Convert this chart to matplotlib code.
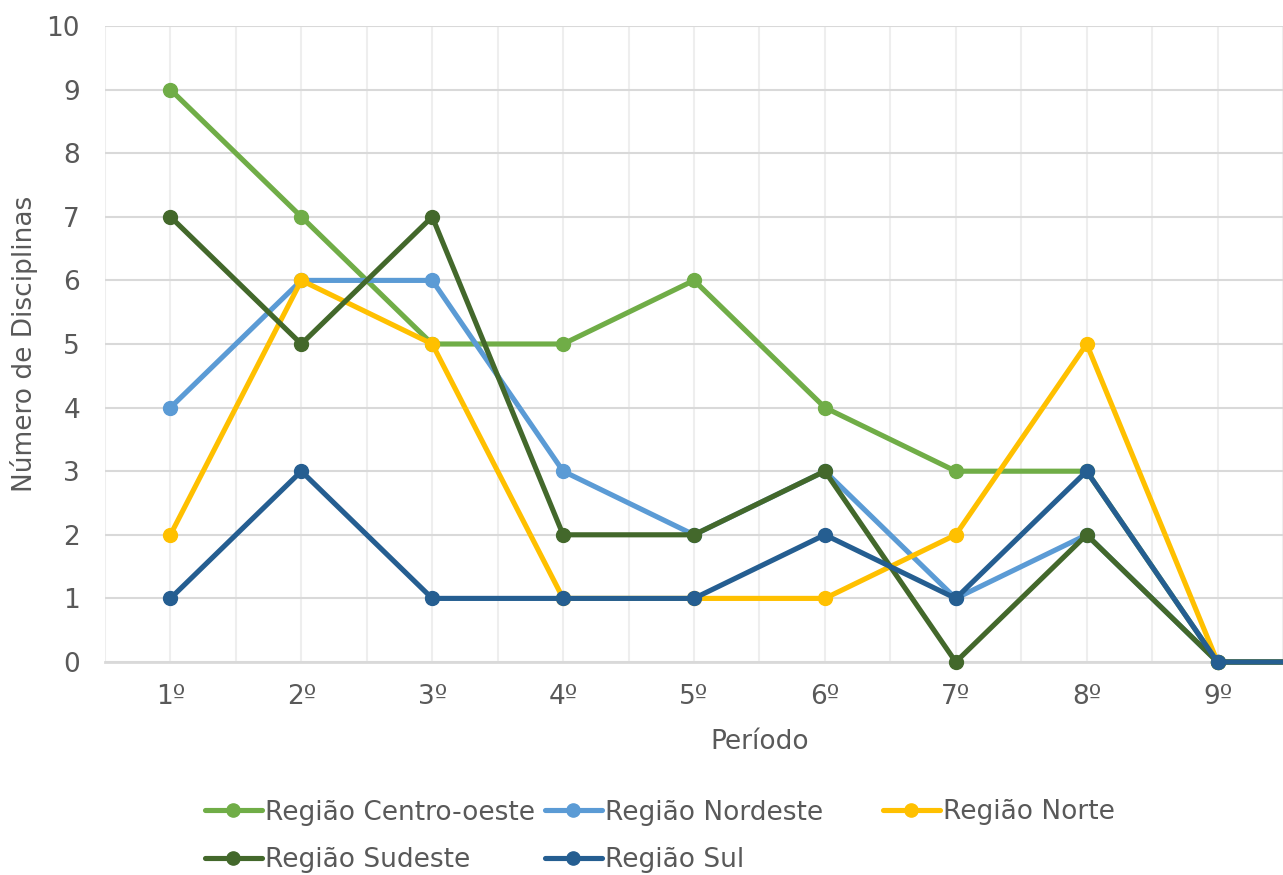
import matplotlib
matplotlib.use("Agg")
import matplotlib.pyplot as plt
from matplotlib.ticker import MultipleLocator, FixedLocator

plt.rcParams['font.family'] = ['DejaVu Sans']

periodos = ["1º", "2º", "3º", "4º", "5º", "6º", "7º", "8º", "9º", "10º"]
centro_oeste = [9, 7, 5, 5, 6, 4, 3, 3, 0, 0]
nordeste = [4, 6, 6, 3, 2, 3, 1, 2, 0, 0]
norte = [2, 6, 5, 1, 1, 1, 2, 5, 0, 0]
sudeste = [7, 5, 7, 2, 2, 3, 0, 2, 0, 0]
sul = [1, 3, 1, 1, 1, 2, 1, 3, 0, 0]

series = [
    ("Região Centro-oeste", centro_oeste, "#70AD47"),
    ("Região Nordeste", nordeste, "#5B9BD5"),
    ("Região Norte", norte, "#FFC000"),
    ("Região Sudeste", sudeste, "#43682B"),
    ("Região Sul", sul, "#255E91"),
]

W, H = 1283, 875
fig = plt.figure(figsize=(W / 100, H / 100), dpi=100)
ax = fig.add_axes([105 / W, 1 - 662 / H, 1 - 105 / W, (662 - 26) / H])

text_color = "#595959"
fs = 19

x = list(range(len(periodos)))
handles = {}
for name, vals, color in series:
    h, = ax.plot(x, vals, color=color, lw=3.7, marker="o", ms=10,
                 solid_capstyle="round", solid_joinstyle="round",
                 clip_on=False, zorder=3, label=name)
    handles[name] = h

# the category axis runs to 10º, but only half of the last band is shown
ax.set_xlim(-0.5, 8.5)
ax.set_ylim(0, 10)
ax.xaxis.set_major_locator(FixedLocator(x))
ax.set_xticklabels(periodos)
ax.xaxis.set_minor_locator(MultipleLocator(0.5))
ax.yaxis.set_major_locator(MultipleLocator(1))

ax.grid(True, axis="y", which="major", color="#d9d9d9", lw=1.5, zorder=0)
ax.grid(True, axis="x", which="both", color="#eeeeee", lw=1.5, zorder=0)
ax.set_axisbelow(True)
for side in ("top", "right", "left"):
    ax.spines[side].set_visible(False)
ax.spines["bottom"].set_color("#d9d9d9")
ax.spines["bottom"].set_linewidth(2)

ax.tick_params(axis="both", which="both", length=0, labelcolor=text_color,
               labelsize=fs)
ax.tick_params(axis="x", pad=16)
ax.tick_params(axis="y", pad=18)

# axis titles are centred on the full ten-category axis
ax.set_xlabel("Período", fontsize=fs, color=text_color)
ax.xaxis.set_label_coords((4.5 + 0.5) / 9.0, -0.105)
ax.set_ylabel("Número de Disciplinas", fontsize=fs, color=text_color)
ax.yaxis.set_label_coords(-0.057, 0.5)

legend_kw = dict(frameon=False, fontsize=fs, labelcolor=text_color,
                 handlelength=2.15, handletextpad=0.12, borderpad=0,
                 borderaxespad=0, labelspacing=0.83, markerscale=0.95,
                 loc="center left")
columns = [
    (205, 836.5, ["Região Centro-oeste", "Região Sudeste"]),
    (545, 836.5, ["Região Nordeste", "Região Sul"]),
    (883, 812, ["Região Norte"]),
]
for px, py, names in columns:
    fig.legend(handles=[handles[n] for n in names], labels=names,
               bbox_to_anchor=(px / W, 1 - py / H), **legend_kw)

fig.savefig("out.png", dpi=100)
